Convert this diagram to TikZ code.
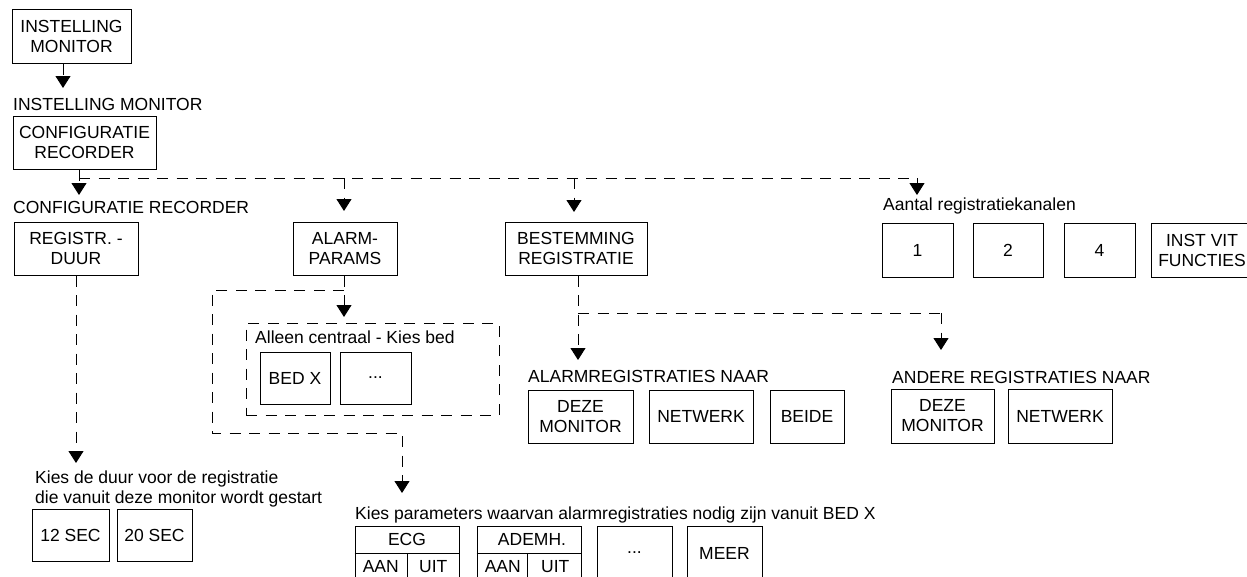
\documentclass[tikz,border=0pt]{standalone}
\usepackage{fontspec}
\setmainfont{Liberation Sans}
\usetikzlibrary{arrows.meta,calc}
\newcommand\fsz{\fontsize{17.5}{20}\selectfont}
\tikzset{
  box/.style={draw, line width=1pt, inner sep=0pt, align=center, font=\fsz},
  txt/.style={inner sep=0pt, font=\fsz},
  lbl/.style={inner sep=0pt, anchor=base west, font=\fsz},
  dline/.style={line width=1pt, dash pattern=on 11pt off 8.5pt},
  tip/.style={-{Triangle[width=15pt,length=12pt]}},
}
\begin{document}
\begin{tikzpicture}[x=1pt,y=-1pt]
\useasboundingbox (0,0) rectangle (1247,576);
\clip (0,0) rectangle (1247,576);

% ---- boxes ----
\node[box, minimum width=119pt, minimum height=54pt] (im) at (71.5,36) {INSTELLING\\MONITOR};
\node[lbl] (Lim) at (13,110) {INSTELLING MONITOR};
\node[box, minimum width=143pt, minimum height=53pt] (cr) at (84.5,142.5) {CONFIGURATIE\\RECORDER};
\node[lbl] (Lcr) at (13,213) {CONFIGURATIE RECORDER};

\node[box, minimum width=124pt, minimum height=53pt] (rd) at (76,248.5) {REGISTR. -\\DUUR};
\node[box, minimum width=104pt, minimum height=53pt] (ap) at (345,248.5) {ALARM-\\PARAMS};
\node[box, minimum width=142pt, minimum height=53pt] (br) at (576,248.5) {BESTEMMING\\REGISTRATIE};

\node[lbl] (Lak) at (883,210) {Aantal registratiekanalen};
\node[box, minimum width=71pt, minimum height=54pt] (k1) at (917.5,250) {1};
\node[box, minimum width=70pt, minimum height=54pt] (k2) at (1008,250) {2};
\node[box, minimum width=71pt, minimum height=54pt] (k4) at (1099.5,250) {4};
\node[box, minimum width=102pt, minimum height=54pt] (kv) at (1202,250) {INST VIT\\FUNCTIES};

\node[box, dline, minimum width=253pt, minimum height=92pt] (cb) at (372.5,369) {};
\node[lbl] (Lcb) at (255,343) {Alleen centraal - Kies bed};
\node[box, minimum width=70pt, minimum height=52pt] (bx) at (295,378) {BED X};
\node[box, minimum width=71pt, minimum height=52pt] (bd) at (375.5,378) {...};

\node[lbl] (Lar) at (528,382) {ALARMREGISTRATIES NAAR};
\node[box, minimum width=105pt, minimum height=53pt] (ad) at (580.5,416.5) {DEZE\\MONITOR};
\node[box, minimum width=104pt, minimum height=53pt] (an) at (701,416.5) {NETWERK};
\node[box, minimum width=74pt, minimum height=53pt] (ab) at (807,416.5) {BEIDE};

\node[lbl] (Lor) at (892,383) {ANDERE REGISTRATIES NAAR};
\node[box, minimum width=103pt, minimum height=54pt] (od) at (942.5,416) {DEZE\\MONITOR};
\node[box, minimum width=104pt, minimum height=54pt] (on) at (1060,416) {NETWERK};

\node[lbl] (Lkd1) at (35,483) {Kies de duur voor de registratie};
\node[lbl] (Lkd2) at (35,503) {die vanuit deze monitor wordt gestart};
\node[box, minimum width=77pt, minimum height=52pt] (s12) at (70.5,535) {12 SEC};
\node[box, minimum width=75pt, minimum height=52pt] (s20) at (154.5,535) {20 SEC};

\node[lbl] (Lkp) at (355,519) {Kies parameters waarvan alarmregistraties nodig zijn vanuit BED X};
\node[box, minimum width=104pt, minimum height=54pt] (ecg) at (407,553) {};
\draw[line width=1pt] (ecg.west) -- (ecg.east) (ecg.center) -- (ecg.south);
\node[txt] (ecgt) at ($(ecg.north)!0.5!(ecg.center)$) {ECG};
\node[txt] (ecga) at ($(ecg.center)!0.5!(ecg.south west)$) {AAN};
\node[txt] (ecgu) at ($(ecg.center)!0.5!(ecg.south east)$) {UIT};
\node[box, minimum width=104pt, minimum height=54pt] (adm) at (529,553) {};
\draw[line width=1pt] (adm.west) -- (adm.east) ([xshift=-2pt]adm.center) -- ([xshift=-2pt]adm.south);
\node[txt] (admt) at ($(adm.north)!0.5!(adm.center)+(3,0)$) {ADEMH.};
\node[txt] (adma) at ($(adm.center)!0.5!(adm.south west)$) {AAN};
\node[txt] (admu) at ($(adm.center)!0.5!(adm.south east)$) {UIT};
\node[box, minimum width=75pt, minimum height=54pt] (pd) at (634.5,553) {...};
\node[box, minimum width=75pt, minimum height=54pt] (meer) at (724.5,553) {MEER};

% ---- connector coordinates ----
\coordinate (c1) at (63,88);
\coordinate (t1) at (79,195);
\coordinate (h0) at (79,178);
\coordinate (h1) at (917,178);
\coordinate (t2) at (344,211);
\coordinate (t3) at (574,212);
\coordinate (t4) at (917,195);
\coordinate (t5) at (76,463);
\coordinate (t6) at (344,317);
\coordinate (l0) at (344,290);
\coordinate (l1) at (212,290);
\coordinate (l2) at (212,433);
\coordinate (l3) at (402,433);
\coordinate (t7) at (402,493);
\coordinate (t8) at (578,360);
\coordinate (m0) at (578,313);
\coordinate (m1) at (941,313);
\coordinate (t9) at (941,350);

% ---- connectors ----
\draw[dline,tip] (im.south -| c1) -- (c1);
\draw[dline,tip] (cr.south -| t1) -- (t1);
\draw[dline] (h0) -- (h1);
\draw[dline,tip] (h1) -- (t4);
\draw[dline,tip] (t2 |- h0) -- (t2);
\draw[dline,tip] (t3 |- h0) -- (t3);
\draw[dline,tip] (rd.south -| t5) -- (t5);
\draw[dline,tip] (ap.south -| t6) -- (t6);
\draw[dline,tip] (l0) -- (l1) -- (l2) -- (l3) -- (t7);
\draw[dline,tip] (br.south -| t8) -- (t8);
\draw[dline] (m0) -- (m1);
\draw[dline,tip] (m1) -- (t9);
\end{tikzpicture}
\end{document}
